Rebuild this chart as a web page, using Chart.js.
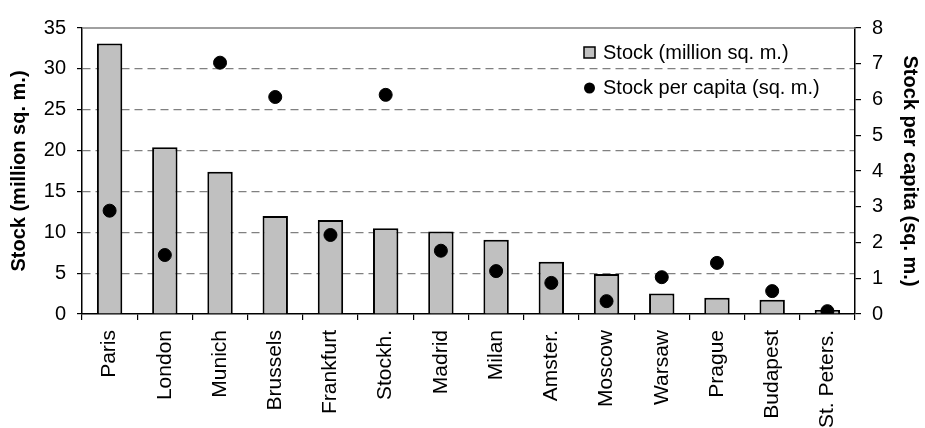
<!DOCTYPE html>
<html>
<head>
<meta charset="utf-8">
<script src="https://cdn.jsdelivr.net/npm/chart.js@4/dist/chart.umd.min.js"></script>
<style>
  html, body { margin: 0; padding: 0; background: #fff; }
  #wrap { width: 925px; height: 428px; }
</style>
</head>
<body>
<div id="wrap"><canvas id="c"></canvas></div>
<script>
// --- Data ---
const cities = ['Paris', 'London', 'Munich', 'Brussels', 'Frankfurt', 'Stockh.', 'Madrid',
  'Milan', 'Amster.', 'Moscow', 'Warsaw', 'Prague', 'Budapest', 'St. Peters.'];
const stockMillion = [33.1, 20.4, 17.4, 12.0, 11.5, 10.5, 10.1, 9.1, 6.4, 4.9, 2.5, 2.0, 1.75, 0.5];
const stockPerCapita = [2.89, 1.65, 7.03, 6.07, 2.21, 6.13, 1.77, 1.2, 0.87, 0.36, 1.03, 1.43, 0.64, 0.08];
const leftTicks = [0, 5, 10, 15, 20, 25, 30, 35];
const rightTicks = [0, 1, 2, 3, 4, 5, 6, 7, 8];

const FONT = 'Liberation Sans, Arial, sans-serif';

// legend + top frame line drawn by hand
const extras = {
  id: 'extras',
  afterDatasetsDraw(chart) {
    const ctx = chart.ctx, a = chart.chartArea;
    ctx.save();
    ctx.strokeStyle = '#808080';
    ctx.lineWidth = 1.5;
    ctx.beginPath();
    ctx.moveTo(a.left, a.top);
    ctx.lineTo(a.right, a.top);
    ctx.stroke();

    ctx.font = '20px ' + FONT;
    ctx.textBaseline = 'middle';
    const lx = 584;
    ctx.fillStyle = '#c0c0c0';
    ctx.fillRect(lx, 47, 11, 11);
    ctx.strokeStyle = '#000';
    ctx.lineWidth = 1.5;
    ctx.strokeRect(lx, 47, 11, 11);
    ctx.fillStyle = '#000';
    ctx.fillText(chart.data.datasets[1].label, 603, 53);
    ctx.beginPath();
    ctx.arc(lx + 5.5, 88, 5.5, 0, Math.PI * 2);
    ctx.fill();
    ctx.fillText(chart.data.datasets[0].label, 603, 88);
    ctx.restore();
  }
};

new Chart(document.getElementById('c'), {
  type: 'bar',
  data: {
    labels: cities,
    datasets: [
      {
        type: 'line',
        label: 'Stock per capita (sq. m.)',
        data: stockPerCapita,
        yAxisID: 'y1',
        showLine: false,
        pointRadius: 6.5,
        pointBackgroundColor: '#000',
        pointBorderColor: '#000',
        order: 0
      },
      {
        label: 'Stock (million sq. m.)',
        data: stockMillion,
        yAxisID: 'y',
        backgroundColor: '#c0c0c0',
        borderColor: '#000',
        borderWidth: 2,
        barPercentage: 0.46,
        categoryPercentage: 1,
        order: 1
      }
    ]
  },
  options: {
    responsive: true,
    maintainAspectRatio: false,
    animation: false,
    layout: { padding: { top: 28, left: 0, right: 0, bottom: 0 } },
    plugins: { legend: { display: false }, tooltip: { enabled: false } },
    scales: {
      x: {
        offset: true,
        grid: { offset: true, drawOnChartArea: false, tickLength: 6, tickColor: '#000', lineWidth: 1.2 },
        border: { color: '#000', width: 1.5 },
        ticks: { minRotation: 90, maxRotation: 90, color: '#000', font: { family: FONT, size: 21 }, padding: 10 },
        afterFit(s) { s.height = 114; }
      },
      y: {
        position: 'left',
        min: 0, max: 35,
        afterBuildTicks(s) { s.ticks = leftTicks.map(v => ({ value: v })); },
        grid: {
          color: c => (c.tick && (c.tick.value === 0 || c.tick.value === 35)) ? 'rgba(0,0,0,0)' : '#808080',
          tickColor: '#000', tickLength: 5, lineWidth: 1.2
        },
        border: { color: '#000', width: 1.5, dash: [8, 5] },
        ticks: { color: '#000', font: { family: FONT, size: 20 }, padding: 11 },
        title: { display: true, text: 'Stock (million sq. m.)', color: '#000',
          font: { family: FONT, size: 20, weight: 'bold' }, padding: { top: 7, bottom: 0 } },
        afterFit(s) { s.width = 82; }
      },
      y1: {
        position: 'right',
        min: 0, max: 8,
        afterBuildTicks(s) { s.ticks = rightTicks.map(v => ({ value: v })); },
        grid: { drawOnChartArea: false, tickColor: '#000', tickLength: 6, lineWidth: 1.2 },
        border: { color: '#000', width: 1.5 },
        ticks: { color: '#000', font: { family: FONT, size: 20 }, padding: 11 },
        title: { display: true, text: 'Stock per capita (sq. m.)', color: '#000',
          font: { family: FONT, size: 20, weight: 'bold' }, padding: { top: 3, bottom: 0 } },
        afterFit(s) { s.width = 70; }
      }
    }
  },
  plugins: [extras]
});
</script>
</body>
</html>
